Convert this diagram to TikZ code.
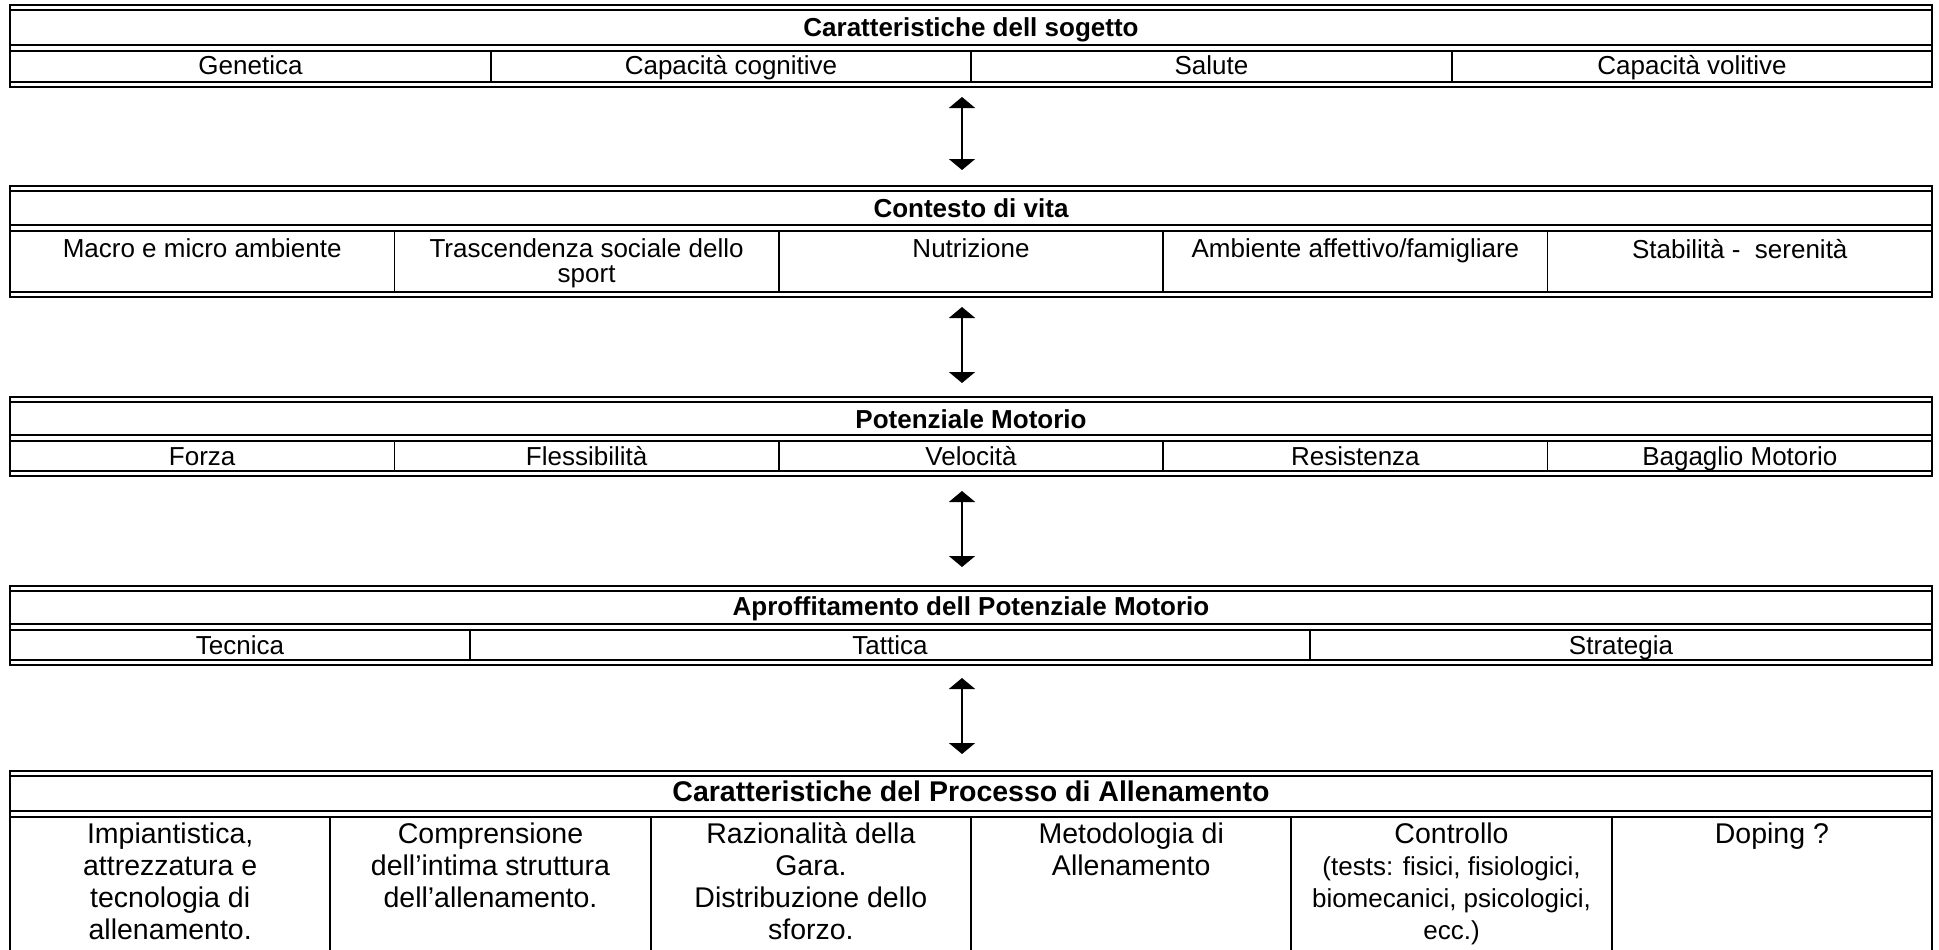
\documentclass[tikz,border=0pt]{standalone}
\usepackage{fontspec}
\setmainfont{Liberation Sans}
\usetikzlibrary{arrows.meta}
\newcommand{\cellfont}{\fontsize{26}{30}\selectfont}
\newcommand{\cellfonttight}{\fontsize{26}{23}\selectfont}
\newcommand{\headfont}{\fontsize{26}{30}\selectfont\bfseries}
\newcommand{\bigcellfont}{\fontsize{28.5}{32}\selectfont}
\newcommand{\parenfont}{\fontsize{26}{32}\selectfont}
\newcommand{\bigheadfont}{\fontsize{28.5}{32}\selectfont\bfseries}
% name, top, header separator, bottom
\newcommand{\tframe}[4]{%
  \node[tablebox, minimum height={(#4-#2)*1pt}] (#1) at (971,{(#2+#4)/2}) {};
  \draw[rule] (10,#2) -- (1932,#2);
  \draw[rule] (10,{#2+5}) -- (1932,{#2+5});
  \draw[rule] (10,#3) -- (1932,#3);
  \draw[rule] (10,{#3+6}) -- (1932,{#3+6});
  \draw[rule] (10,{#4-5}) -- (1932,{#4-5});
  \draw[rule] (10,#4) -- (1932,#4);
  \draw[rule] (10,#2) -- (10,#4);
  \draw[rule] (1932,#2) -- (1932,#4);
}
\newcommand{\csep}[3]{\draw[sepline] (#1,#2) -- (#1,#3);}
\begin{document}
\begin{tikzpicture}[x=1pt,y=-1pt,
  rule/.style={line width=2pt, line cap=rect},
  sepline/.style={line width=1.7pt},
  cell/.style={inner sep=0pt, align=center, font=\bigcellfont, anchor=north},
  celltight/.style={inner sep=0pt, align=center, font=\cellfonttight, anchor=north},
  celltext/.style={inner sep=0pt, font=\cellfont, anchor=base},
  headtext/.style={inner sep=0pt, font=\headfont, anchor=base},
  bighead/.style={inner sep=0pt, font=\bigheadfont, anchor=base},
  linkarrow/.style={line width=2pt, {Triangle[width=26pt,length=11pt]}-{Triangle[width=26pt,length=11pt]}},
  tablebox/.style={inner sep=0pt, outer sep=0pt, minimum width=1922pt, draw=none}
]
\useasboundingbox (0,0) rectangle (1939,950);

% ---- Table 1
\tframe{T1}{5}{45}{87}
\node[headtext] (h1) at (971,37) {Caratteristiche dell sogetto};
\csep{491}{51}{82}\csep{971}{51}{82}\csep{1452}{51}{82}
\node[celltext] (c11) at (250.5,74.5) {Genetica};
\node[celltext] (c12) at (731,74.5) {Capacità cognitive};
\node[celltext] (c13) at (1211.5,74.5) {Salute};
\node[celltext] (c14) at (1692,74.5) {Capacità volitive};

% ---- Table 2
\tframe{T2}{186}{225}{297}
\node[headtext] (h2) at (971,217) {Contesto di vita};
\csep{394.4}{231}{292}\csep{778.8}{231}{292}\csep{1163.2}{231}{292}\csep{1547.6}{231}{292}
\node[celltight] (c21) at (202.2,238.9) {\strut Macro e micro ambiente};
\node[celltight] (c22) at (586.6,238.9) {\strut Trascendenza sociale dello\\sport};
\node[celltight] (c23) at (971,238.9) {\strut Nutrizione};
\node[celltight] (c24) at (1355.4,238.9) {\strut Ambiente affettivo/famigliare};
\node[celltight] (c25) at (1739.8,238.9) {\strut Stabilità -\ \ serenità};

% ---- Table 3
\tframe{T3}{397}{435}{476}
\node[headtext] (h3) at (971,428) {Potenziale Motorio};
\csep{394.4}{441}{471}\csep{778.8}{441}{471}\csep{1163.2}{441}{471}\csep{1547.6}{441}{471}
\node[celltext] (c31) at (202.2,465) {Forza};
\node[celltext] (c32) at (586.6,465) {Flessibilità};
\node[celltext] (c33) at (971,465) {Velocità};
\node[celltext] (c34) at (1355.4,465) {Resistenza};
\node[celltext] (c35) at (1739.8,465) {Bagaglio Motorio};

% ---- Table 4
\tframe{T4}{586}{624}{665}
\node[headtext] (h4) at (971,615) {Aproffitamento dell Potenziale Motorio};
\csep{470}{630}{660}\csep{1310}{630}{660}
\node[celltext] (c41) at (240,654) {Tecnica};
\node[celltext] (c42) at (890,654) {Tattica};
\node[celltext] (c43) at (1621,654) {Strategia};

% ---- Table 5 (runs off the bottom edge)
\node[tablebox, minimum height=179pt] (T5) at (971,860.5) {};
\draw[rule] (10,771) -- (1932,771);
\draw[rule] (10,776) -- (1932,776);
\draw[rule] (10,811) -- (1932,811);
\draw[rule] (10,817) -- (1932,817);
\draw[rule] (10,771) -- (10,952);
\draw[rule] (1932,771) -- (1932,952);
\node[bighead] (h5) at (971,801) {Caratteristiche del Processo di Allenamento};
\csep{330.3}{817}{952}\csep{650.7}{817}{952}\csep{971}{817}{952}\csep{1291.3}{817}{952}\csep{1611.7}{817}{952}
\node[cell] (c51) at (170.2,820.6) {\strut Impiantistica,\\attrezzatura e\\tecnologia di\\allenamento.};
\node[cell] (c52) at (490.5,820.6) {\strut Comprensione\\dell’intima struttura\\dell’allenamento.};
\node[cell] (c53) at (810.9,820.6) {\strut Razionalità della\\Gara.\\Distribuzione dello\\sforzo.};
\node[cell] (c54) at (1131.2,820.6) {\strut Metodologia di\\Allenamento};
\node[cell] (c55) at (1451.5,820.6) {\strut Controllo\\\parenfont (tests: fisici, fisiologici,\\\parenfont biomecanici, psicologici,\\\parenfont ecc.)};
\node[cell] (c56) at (1771.9,820.6) {\strut Doping ?};

% ---- Connectors
\draw[linkarrow] ([xshift=-9pt,yshift=-10pt]T1.south) -- ([xshift=-9pt,yshift=16pt]T2.north);
\draw[linkarrow] ([xshift=-9pt,yshift=-10pt]T2.south) -- ([xshift=-9pt,yshift=14pt]T3.north);
\draw[linkarrow] ([xshift=-9pt,yshift=-15pt]T3.south) -- ([xshift=-9pt,yshift=19pt]T4.north);
\draw[linkarrow] ([xshift=-9pt,yshift=-13pt]T4.south) -- ([xshift=-9pt,yshift=17pt]T5.north);
\end{tikzpicture}
\end{document}
